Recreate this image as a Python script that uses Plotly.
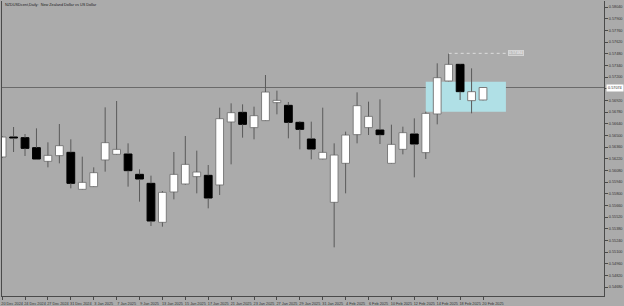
import plotly.graph_objects as go

# ---- data ----
dates = ["20 Dec 2024", "23 Dec 2024", "24 Dec 2024", "26 Dec 2024", "27 Dec 2024",
         "30 Dec 2024", "31 Dec 2024", "2 Jan 2025", "3 Jan 2025", "6 Jan 2025",
         "7 Jan 2025", "8 Jan 2025", "9 Jan 2025", "10 Jan 2025", "13 Jan 2025",
         "14 Jan 2025", "15 Jan 2025", "16 Jan 2025", "17 Jan 2025", "20 Jan 2025",
         "21 Jan 2025", "22 Jan 2025", "23 Jan 2025", "24 Jan 2025", "27 Jan 2025",
         "28 Jan 2025", "29 Jan 2025", "30 Jan 2025", "31 Jan 2025", "3 Feb 2025",
         "4 Feb 2025", "5 Feb 2025", "6 Feb 2025", "7 Feb 2025", "10 Feb 2025",
         "11 Feb 2025", "12 Feb 2025", "13 Feb 2025", "14 Feb 2025", "17 Feb 2025",
         "18 Feb 2025", "19 Feb 2025", "20 Feb 2025"]

opens = [0.56240, 0.56480, 0.56472, 0.56352, 0.56188, 0.56256, 0.56296, 0.55852, 0.55884, 0.56204,
         0.56272, 0.56276, 0.56032, 0.55924, 0.55456, 0.55820, 0.55916, 0.56004, 0.56020, 0.55904,
         0.56660, 0.56776, 0.56592, 0.56676, 0.56892, 0.56860, 0.56656, 0.56456, 0.56216, 0.55696,
         0.56164, 0.56508, 0.56592, 0.56564, 0.56164, 0.56332, 0.56516, 0.56292, 0.56756, 0.57152,
         0.57352, 0.56916, 0.56924]
highs = [0.56492, 0.56600, 0.56516, 0.56584, 0.56416, 0.56636, 0.56452, 0.56244, 0.56116, 0.56836,
         0.56912, 0.56404, 0.56092, 0.56016, 0.55832, 0.56300, 0.56492, 0.56316, 0.56144, 0.56832,
         0.56884, 0.56872, 0.56844, 0.57224, 0.57036, 0.56900, 0.56672, 0.56664, 0.56832, 0.56404,
         0.56544, 0.57016, 0.56904, 0.56932, 0.56628, 0.56604, 0.56704, 0.56784, 0.57364, 0.57484,
         0.57356, 0.57304, 0.57076]
lows = [0.56228, 0.56300, 0.56252, 0.56204, 0.56116, 0.56164, 0.55864, 0.55848, 0.55880, 0.56064,
        0.56268, 0.55884, 0.55704, 0.55412, 0.55404, 0.55732, 0.55908, 0.55804, 0.55624, 0.55784,
        0.56152, 0.56472, 0.56452, 0.56672, 0.56752, 0.56464, 0.56332, 0.56212, 0.56212, 0.55156,
        0.55804, 0.56404, 0.56504, 0.56396, 0.56160, 0.56272, 0.55996, 0.56216, 0.56632, 0.57148,
        0.56924, 0.56764, 0.56920]
closes = [0.56480, 0.56468, 0.56344, 0.56216, 0.56260, 0.56376, 0.55924, 0.55936, 0.56052, 0.56412,
          0.56332, 0.56076, 0.55976, 0.55472, 0.55816, 0.56032, 0.56152, 0.56060, 0.55748, 0.56700,
          0.56772, 0.56632, 0.56736, 0.57020, 0.56920, 0.56656, 0.56572, 0.56336, 0.56296, 0.56264,
          0.56504, 0.56856, 0.56728, 0.56508, 0.56392, 0.56532, 0.56396, 0.56764, 0.57192, 0.57352,
          0.57024, 0.57024, 0.57074]

y_tick_vals = [0.54680, 0.54820, 0.54960, 0.55100, 0.55240, 0.55380, 0.55520, 0.55660, 0.55800,
               0.55940, 0.56080, 0.56220, 0.56360, 0.56500, 0.56640, 0.56780, 0.56920, 0.57060,
               0.57200, 0.57340, 0.57480, 0.57620, 0.57760, 0.57900, 0.58040]

zone_start, zone_end = 37, 44
zone_low, zone_high = 0.56784, 0.57144
marked_high = 0.57484
marked_from, marked_to = 39, 44.2
last_price = 0.57074
title_text = "NZDUSDcent,Daily:  New Zealand Dollar vs US Dollar"

# ---- build ----
BG = "#ababab"
AX = "#4a4a4a"
FONT = "Liberation Sans"
FS = 3.8

x = list(range(len(dates)))
bases, heights, fills, outlines = [], [], [], []
wx, wy = [], []
for i, (o, h, l, c) in enumerate(zip(opens, highs, lows, closes)):
    lo, hi = min(o, c), max(o, c)
    bases.append(lo)
    heights.append(max(hi - lo, 0.00003))
    bull = c >= o
    fills.append("#ffffff" if bull else "#000000")
    outlines.append("#7c7c7c" if bull else "#000000")
    if h > hi:
        wx += [i, i, None]
        wy += [hi, h, None]
    if l < lo:
        wx += [i, i, None]
        wy += [l, lo, None]

fig = go.Figure()
fig.add_trace(go.Bar(x=x, y=heights, base=bases, width=0.68,
                     marker=dict(color=fills, line=dict(color=outlines, width=1)),
                     hoverinfo="skip"))
fig.add_trace(go.Scatter(x=wx, y=wy, mode="lines", line=dict(color="#5a5a5a", width=1),
                         hoverinfo="skip"))

fig.add_shape(type="rect", x0=zone_start, x1=zone_end, y0=zone_low, y1=zone_high,
              fillcolor="#b0e0e6", line=dict(width=0), layer="below")
fig.add_shape(type="line", xref="paper", x0=0, x1=1, y0=last_price, y1=last_price,
              line=dict(color="#6a6a6a", width=1), layer="below")
fig.add_shape(type="line", x0=marked_from, x1=marked_to, y0=marked_high, y1=marked_high,
              line=dict(color="#dcdcdc", width=1, dash="dot"))

fig.add_annotation(x=marked_to, y=marked_high, xanchor="left", yanchor="middle",
                   text=f"{marked_high:.5f}", showarrow=False, bgcolor="#bcbcbc",
                   bordercolor="#d4d4d4", borderwidth=1, borderpad=0,
                   font=dict(family=FONT, size=FS, color="#f4f4f4"))
fig.add_annotation(xref="paper", x=1.004, y=last_price, xanchor="left", yanchor="middle",
                   text=f"{last_price:.5f}", showarrow=False, bgcolor="#ffffff",
                   borderpad=1, font=dict(family=FONT, size=FS, color="#303030"))
fig.add_annotation(xref="paper", yref="paper", x=0.002, y=0.988, xanchor="left",
                   yanchor="middle", text=title_text, showarrow=False,
                   font=dict(family=FONT, size=FS, color="#222222"))

# the tick label next to the current-price box is covered by that box in the reference
y_tick_text = ["" if abs(v - last_price) < 0.0007 else f"{v:.5f}" for v in y_tick_vals]

tick_idx = x[::2]
fig.update_layout(
    width=624, height=306,
    margin=dict(l=2, r=20, t=1, b=10, autoexpand=False),
    paper_bgcolor=BG, plot_bgcolor=BG,
    showlegend=False, barmode="overlay", hovermode=False,
    font=dict(family=FONT, size=FS, color="#333333"),
    xaxis=dict(range=[-0.01, 52.566], tickvals=tick_idx,
               ticktext=[dates[i] for i in tick_idx], tickangle=0, automargin=False,
               ticks="outside", ticklen=3, tickcolor=AX, tickwidth=1,
               showline=True, linecolor=AX, linewidth=1,
               showgrid=False, zeroline=False, ticklabelshift=10, ticklabelstandoff=0,
               tickfont=dict(family=FONT, size=FS, color="#333333")),
    yaxis=dict(range=[0.54572, 0.58112], side="right", tickvals=y_tick_vals,
               ticktext=y_tick_text, automargin=False,
               ticks="outside", ticklen=3, tickcolor=AX, tickwidth=1,
               showline=True, linecolor=AX, linewidth=1, mirror=True,
               showgrid=False, zeroline=False,
               tickfont=dict(family=FONT, size=FS, color="#333333")),
)

fig.write_html("out.html")
